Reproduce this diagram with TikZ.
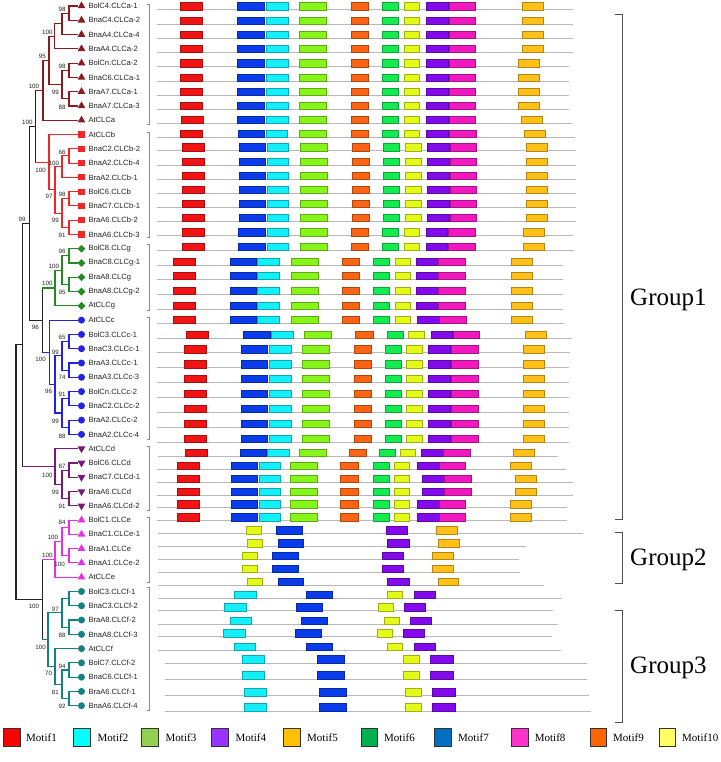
\documentclass[tikz,border=0pt]{standalone}
\usepackage{fontspec}
\setmainfont{Liberation Serif}
\newfontfamily\arialf{Liberation Sans}
\usetikzlibrary{shapes.geometric,calc}
% tree colours
\definecolor{ca}{RGB}{139,26,30}
\definecolor{cb}{RGB}{238,40,40}
\definecolor{cg}{RGB}{34,139,34}
\definecolor{cc}{RGB}{35,35,230}
\definecolor{cd}{RGB}{120,25,120}
\definecolor{ce}{RGB}{232,45,232}
\definecolor{cf}{RGB}{20,130,130}
\definecolor{bk}{RGB}{35,35,35}
% motif colours (rows)
\definecolor{mR}{RGB}{240,20,20}
\definecolor{mB}{RGB}{10,60,235}
\definecolor{mC}{RGB}{20,240,250}
\definecolor{mG}{RGB}{135,245,25}
\definecolor{mO}{RGB}{250,100,20}
\definecolor{mS}{RGB}{20,235,80}
\definecolor{mY}{RGB}{228,250,25}
\definecolor{mP}{RGB}{130,10,235}
\definecolor{mM}{RGB}{240,25,190}
\definecolor{mA}{RGB}{255,192,25}
% legend colours
\definecolor{lA}{RGB}{255,0,0}
\definecolor{lB}{RGB}{0,255,255}
\definecolor{lC}{RGB}{146,208,80}
\definecolor{lD}{RGB}{153,51,255}
\definecolor{lE}{RGB}{255,192,0}
\definecolor{lF}{RGB}{0,176,80}
\definecolor{lG}{RGB}{0,112,192}
\definecolor{lH}{RGB}{255,51,204}
\definecolor{lI}{RGB}{255,102,0}
\definecolor{lJ}{RGB}{255,255,102}
\newcommand\jn[4]{\coordinate (tmpm) at ($(#3)!0.5!(#4)$);\coordinate (tmpx) at (#2,0);\coordinate (#1) at (tmpx |- tmpm);}
\newcommand\br[4]{\draw[tl,#3] (#1) -- (#1 |- #2);\draw[tl,#4] (#1 |- #2) -- (#2);}
\newcommand\bb[3]{\br{#1}{#2}{#3}{#3}}
\newcommand\mbx[5]{\filldraw[fill=#1,draw=#1!70!black,line width=0.45pt] (#2,{#4-#5}) rectangle ({#2+#3},{#4+0.3});}
\begin{document}
\begin{tikzpicture}[x=1pt,y=-1pt,
  tl/.style={line width=1.1pt,line cap=rect},
  lab/.style={anchor=west,inner sep=0pt,font=\arialf\fontsize{7.6}{9}\selectfont,text=bk},
  bs/.style={anchor=east,inner sep=0pt,font=\arialf\fontsize{6.2}{7}\selectfont,text=bk},
  mk/.style={inner sep=0pt,draw=none},
  mka/.style={mk,regular polygon,regular polygon sides=3,minimum size=9pt,fill=ca},
  mkb/.style={mk,rectangle,minimum size=6.2pt,fill=cb},
  mkg/.style={mk,diamond,minimum size=8pt,fill=cg},
  mkc/.style={mk,circle,minimum size=7pt,fill=cc},
  mkd/.style={mk,regular polygon,regular polygon sides=3,shape border rotate=180,minimum size=9pt,fill=cd},
  mke/.style={mk,regular polygon,regular polygon sides=3,minimum size=9pt,fill=ce},
  mkf/.style={mk,circle,minimum size=7pt,fill=cf},
  ml/.style={draw={rgb,255:red,185;green,185;blue,185},line width=0.9pt},
  cbr/.style={draw={rgb,255:red,140;green,140;blue,140},line width=0.8pt},
  gbr/.style={draw={rgb,255:red,80;green,80;blue,80},line width=1pt},
  grp/.style={anchor=west,inner sep=0pt,font=\fontsize{25}{28}\selectfont},
  leg/.style={anchor=west,inner sep=0pt,font=\fontsize{11}{13}\selectfont}]
\useasboundingbox (0,0) rectangle (720,762);

% ---------------- leaves, markers, labels
\foreach \i in {1,...,50}{\coordinate (L\i) at (77.5,{6+(\i-1)*14.28});}
\foreach \i/\t/\s in {1/BolC4.CLCa-1/mka,2/BnaC4.CLCa-2/mka,3/BnaA4.CLCa-4/mka,4/BraA4.CLCa-2/mka,
 5/BolCn.CLCa-2/mka,6/BnaC6.CLCa-1/mka,7/BraA7.CLCa-1/mka,8/BnaA7.CLCa-3/mka,9/AtCLCa/mka,
 10/AtCLCb/mkb,11/BnaC2.CLCb-2/mkb,12/BnaA2.CLCb-4/mkb,13/BraA2.CLCb-1/mkb,14/BolC6.CLCb/mkb,
 15/BnaC7.CLCb-1/mkb,16/BraA6.CLCb-2/mkb,17/BnaA6.CLCb-3/mkb,
 18/BolC8.CLCg/mkg,19/BnaC8.CLCg-1/mkg,20/BraA8.CLCg/mkg,21/BnaA8.CLCg-2/mkg,22/AtCLCg/mkg,
 23/AtCLCc/mkc,24/BolC3.CLCc-1/mkc,25/BnaC3.CLCc-1/mkc,26/BraA3.CLCc-1/mkc,27/BnaA3.CLCc-3/mkc,
 28/BolCn.CLCc-2/mkc,29/BnaC2.CLCc-2/mkc,30/BraA2.CLCc-2/mkc,31/BnaA2.CLCc-4/mkc,
 32/AtCLCd/mkd,33/BolC6.CLCd/mkd,34/BnaC7.CLCd-1/mkd,35/BraA6.CLCd/mkd,36/BnaA6.CLCd-2/mkd,
 37/BolC1.CLCe/mke,38/BnaC1.CLCe-1/mke,39/BraA1.CLCe/mke,40/BnaA1.CLCe-2/mke,41/AtCLCe/mke,
 42/BolC3.CLCf-1/mkf,43/BnaC3.CLCf-2/mkf,44/BraA8.CLCf-2/mkf,45/BnaA8.CLCf-3/mkf,46/AtCLCf/mkf,
 47/BolC7.CLCf-2/mkf,48/BnaC6.CLCf-1/mkf,49/BraA6.CLCf-1/mkf,50/BnaA6.CLCf-4/mkf}{
 \node[\s] (m\i) at (81.5,{6+(\i-1)*14.28}) {};
 \node[lab] (t\i) at (88.3,{6+(\i-1)*14.28}) {\t};
}

% ---------------- internal nodes
\jn{a1}{69}{L1}{L2}\jn{a2}{62}{a1}{L3}\jn{a3}{54.3}{a2}{L4}
\jn{a4}{69}{L5}{L6}\jn{a5}{69}{L7}{L8}\jn{a6}{62}{a4}{a5}
\jn{a7}{49}{a3}{a6}\jn{a8}{43}{a7}{L9}
\jn{b1}{69}{L11}{L12}\jn{b2}{62}{b1}{L13}\jn{b3}{69}{L14}{L15}\jn{b4}{69}{L16}{L17}
\jn{b5}{62}{b3}{b4}\jn{b6}{55}{b2}{b5}\jn{b7}{49}{L10}{b6}
\jn{r1}{35.7}{a8}{b7}
\jn{g1}{69}{L18}{L19}\jn{g2}{69}{L20}{L21}\jn{g3}{62}{g1}{g2}\jn{g4}{55}{g3}{L22}
\jn{c1}{69}{L24}{L25}\jn{c2}{69}{L26}{L27}\jn{c3}{62}{c1}{c2}
\jn{c4}{69}{L28}{L29}\jn{c5}{69}{L30}{L31}\jn{c6}{62}{c4}{c5}
\jn{c7}{55}{c3}{c6}\jn{c8}{49.3}{L23}{c7}
\jn{r2}{42.7}{g4}{c8}\jn{r3}{29.3}{r1}{r2}
\jn{d1}{69}{L33}{L34}\jn{d2}{69}{L35}{L36}\jn{d3}{62}{d1}{d2}\jn{d4}{55}{L32}{d3}
\jn{r4}{22.7}{r3}{d4}
\jn{e1}{69}{L37}{L38}\jn{e2}{69}{L39}{L40}\jn{e3}{62}{e1}{e2}\jn{e4}{55}{e3}{L41}
\jn{f1}{69}{L42}{L43}\jn{f2}{69}{L44}{L45}\jn{f3}{62}{f1}{f2}
\jn{f4}{69}{L47}{L48}\jn{f5}{69}{L49}{L50}\jn{f6}{62}{f4}{f5}
\jn{f7}{55}{L46}{f6}\jn{f8}{48}{f3}{f7}
\jn{r5}{42.7}{e4}{f8}\jn{r6}{16}{r4}{r5}

% ---------------- branches
\bb{a1}{L1}{ca}\bb{a1}{L2}{ca}\bb{a2}{a1}{ca}\bb{a2}{L3}{ca}\bb{a3}{a2}{ca}\bb{a3}{L4}{ca}
\bb{a4}{L5}{ca}\bb{a4}{L6}{ca}\bb{a5}{L7}{ca}\bb{a5}{L8}{ca}\bb{a6}{a4}{ca}\bb{a6}{a5}{ca}
\bb{a7}{a3}{ca}\bb{a7}{a6}{ca}\bb{a8}{a7}{ca}\bb{a8}{L9}{ca}
\bb{b1}{L11}{cb}\bb{b1}{L12}{cb}\bb{b2}{b1}{cb}\bb{b2}{L13}{cb}
\bb{b3}{L14}{cb}\bb{b3}{L15}{cb}\bb{b4}{L16}{cb}\bb{b4}{L17}{cb}
\bb{b5}{b3}{cb}\bb{b5}{b4}{cb}\bb{b6}{b2}{cb}\bb{b6}{b5}{cb}\bb{b7}{L10}{cb}\bb{b7}{b6}{cb}
\br{r1}{a8}{bk}{ca}\br{r1}{b7}{bk}{cb}
\bb{g1}{L18}{cg}\bb{g1}{L19}{cg}\bb{g2}{L20}{cg}\bb{g2}{L21}{cg}
\bb{g3}{g1}{cg}\bb{g3}{g2}{cg}\bb{g4}{g3}{cg}\bb{g4}{L22}{cg}
\bb{c1}{L24}{cc}\bb{c1}{L25}{cc}\bb{c2}{L26}{cc}\bb{c2}{L27}{cc}\bb{c3}{c1}{cc}\bb{c3}{c2}{cc}
\bb{c4}{L28}{cc}\bb{c4}{L29}{cc}\bb{c5}{L30}{cc}\bb{c5}{L31}{cc}\bb{c6}{c4}{cc}\bb{c6}{c5}{cc}
\bb{c7}{c3}{cc}\bb{c7}{c6}{cc}\bb{c8}{L23}{cc}\bb{c8}{c7}{cc}
\br{r2}{g4}{bk}{cg}\br{r2}{c8}{bk}{cc}
\br{r3}{r1}{bk}{bk}\br{r3}{r2}{bk}{bk}
\bb{d1}{L33}{cd}\bb{d1}{L34}{cd}\bb{d2}{L35}{cd}\bb{d2}{L36}{cd}
\bb{d3}{d1}{cd}\bb{d3}{d2}{cd}\bb{d4}{L32}{cd}\bb{d4}{d3}{cd}
\br{r4}{r3}{bk}{bk}\br{r4}{d4}{bk}{cd}
\bb{e1}{L37}{ce}\bb{e1}{L38}{ce}\bb{e2}{L39}{ce}\bb{e2}{L40}{ce}
\bb{e3}{e1}{ce}\bb{e3}{e2}{ce}\bb{e4}{e3}{ce}\bb{e4}{L41}{ce}
\bb{f1}{L42}{cf}\bb{f1}{L43}{cf}\bb{f2}{L44}{cf}\bb{f2}{L45}{cf}\bb{f3}{f1}{cf}\bb{f3}{f2}{cf}
\bb{f4}{L47}{cf}\bb{f4}{L48}{cf}\bb{f5}{L49}{cf}\bb{f5}{L50}{cf}\bb{f6}{f4}{cf}\bb{f6}{f5}{cf}
\bb{f7}{L46}{cf}\bb{f7}{f6}{cf}\bb{f8}{f3}{cf}\bb{f8}{f7}{cf}
\br{r5}{e4}{bk}{ce}\br{r5}{f8}{bk}{cf}
\br{r6}{r4}{bk}{bk}\br{r6}{r5}{bk}{bk}

% ---------------- bootstrap values
\foreach \bx/\by/\bv [count=\k] in {65.7/9/98,52.7/32.3/100,46/56.7/95,65.7/66/98,59/92.7/99,65.7/107/88,
 39.3/86.7/100,32.7/122.7/100,65.7/152/66,59.3/163.3/100,46/170/100,52.7/196.7/97,65.7/194/98,
 59/220.7/99,65.7/235.3/91,25.7/219.3/99,65.7/251.7/96,59.3/266/100,52.7/283.3/100,65.7/292.7/95,
 39/327.3/96,65.7/337.7/65,59/352.3/99,46/359.3/100,65.7/377.7/74,52.3/391.7/96,65.7/394.3/91,
 59/421/99,65.7/436/88,65.7/466/87,52.7/475/100,59/492.3/99,65.7/506.7/91,65.7/522.7/84,
 58.3/537.3/100,52.7/555.7/100,65/564/100,39.3/606.7/100,59/609.3/97,65.7/635/88,46/647.7/100,
 65.7/666/94,52.3/673.3/70,59/692.3/81,65.7/706.7/92}{
 \node[bs] (bs\k) at (\bx,\by) {\bv};
}

% ---------------- clade brackets
\foreach \ya/\yb in {4/124,132.7/237.3,244/310.7,317.3/439.3,446/510.7,517.3/582.7,587.7/710}{
 \draw[cbr] (146.5,\ya) -- (149.3,\ya) -- (149.3,\yb) -- (146.5,\yb);
}

% ---------------- motif rows: full (10 motifs)
\foreach \yy/\xs/\xe/\qa/\qb/\qc/\qd/\qe/\qf/\qg/\qh/\qi/\qj in {
 9.7/157/572.7/180.7/237.7/266.3/299/351/382.3/404/426.7/449/522.3,
 24/157/572.7/180.7/237.7/266.3/299/351/382.3/404/426.7/449/522.3,
 38.3/157/572.7/180.7/237.7/266.3/299/351/382.3/404/426.7/449/522.3,
 52.3/157/572.7/180.7/237.7/266.3/299/351/382.3/404/426.7/449/522.3,
 66.7/157/569.3/180.7/237.7/266.3/299/351/382.3/404/426.7/449/518.3,
 81/157/569.3/180.7/237.7/266.3/299/351/382.3/404/426.7/449/518.3,
 95.3/157/569.3/180.7/237.7/266.3/299/351/382.3/404/426.7/449/518.3,
 109.3/157/569.3/180.7/237.7/266.3/299/351/382.3/404/426.7/449/518.3,
 123.3/157/572/181/237.7/266.3/299/351/382.3/404/426.7/449/521.3,
 137.3/157/575/180.7/238/266/299/351/382.3/404/426.7/449.3/524,
 150.7/157/576/182/239/267/300.3/352/383.3/405.3/427.3/450/526,
 165/157/576/182/239/267/300.3/352/383.3/405.3/427.3/450/526,
 179.3/157/576/182/239/267/300.3/352/383.3/405.3/427.3/450/526,
 193.3/157/576/182/239/267/300.3/352/383.3/405.3/427.3/450/526,
 207.3/157/576/182/239/267/300.3/352/383.3/405.3/427.3/450/526,
 221.3/157/576/182/239/267/300.3/352/383.3/405.3/427.3/450/526,
 235.7/157/572.7/182.3/238.7/267/300/351/382.3/404/426/448.3/523.3,
 250/157/573.7/182.3/238.7/267/300/351/382.3/404/426/448.3/523.7,
 265/157/563.3/173.3/230/257.7/291/342/373.3/395/416.7/438.7/511,
 279.3/157/563.3/173.3/230/257.7/291/342/373.3/395/416.7/438.7/511,
 294.3/157/563.3/173.3/230/257.7/291/342/373.3/395/416.7/438.7/511,
 309/157/563.3/173.3/230/257.7/291/342/373.3/395/416.7/438.7/511,
 323.3/157/563.7/173.3/230/257.7/291/342/373.3/395/417.3/439.3/511.7,
 338.3/157/571.7/186/243.3/271.3/304.3/355.3/387.3/408.7/431/453/525.7,
 352.7/157/570/184.7/241/269.3/302.7/354/385.3/406.3/428.7/451.7/523,
 367.5/157/569.3/184.7/241/269.3/302.7/354/385.3/406.3/428.7/451.7/523,
 382.3/157/569.3/184.7/241/269.3/302.7/354/385.3/406.3/428.7/451.7/523,
 397/157/569.3/184.7/241/269.3/302.7/354/385.3/406.3/428.7/451.7/523,
 412.3/157/569.3/184.7/241/269.3/302.7/354/385.3/406.3/428.7/451.7/523,
 427/157/569.3/184.7/241/269.3/302.7/354/385.3/406.3/428.7/451.7/523,
 442/157/569.3/184.7/241/269.3/302.7/354/385.3/406.3/428.7/451.7/523,
 456/158.3/558.3/185.3/240/267.3/299.3/349/379.3/400/421.7/443.3/513,
 469.3/157/566/177/231/259/290.7/340.7/373.3/394/417.3/439/510,
 482.3/157/572.7/177/231/259/290.7/340.7/373.3/394/422.7/444.3/515.3,
 495/157/572.7/177/231/259/290.7/340.7/373.3/394/422.7/444.3/515.3,
 507.7/157/566.7/177/231/259/290.7/340.7/373.3/394/417.3/439/510,
 520.7/157/567/177/231/259/290.7/340.7/373.3/394/417.3/439/510}{
 \draw[ml] (\xs,\yy) -- (\xe,\yy);
 \mbx{mR}{\qa}{22}{\yy}{7}
 \mbx{mB}{\qb}{26.5}{\yy}{7}
 \mbx{mC}{\qc}{21.5}{\yy}{7}
 \mbx{mG}{\qd}{27}{\yy}{7}
 \mbx{mO}{\qe}{17.5}{\yy}{7}
 \mbx{mS}{\qf}{16}{\yy}{7}
 \mbx{mY}{\qg}{15.5}{\yy}{7}
 \mbx{mP}{\qh}{21.5}{\yy}{7}
 \mbx{mM}{\qi}{26.5}{\yy}{7}
 \mbx{mA}{\qj}{21}{\yy}{7}
}
% CLCe-type rows (motifs 10,7,4,5)
\foreach \yy/\xs/\xe/\qa/\qb/\qc/\qd in {
 533.7/158.3/582.7/246/276.7/386.3/436.7,
 546.7/158.3/526/247.3/278/387.7/438.7,
 559.3/158.3/519/242/272.7/382/432.3,
 572/158.3/520/242/272.7/382/432.3,
 585.3/158.3/544/247/278/387.7/438}{
 \draw[ml] (\xs,\yy) -- (\xe,\yy);
 \mbx{mY}{\qa}{15}{\yy}{7}
 \mbx{mB}{\qb}{25.7}{\yy}{7}
 \mbx{mP}{\qc}{21.4}{\yy}{7}
 \mbx{mA}{\qd}{20.6}{\yy}{7}
}
% CLCf-type rows (motifs 2,7,10,4)
\foreach \yy/\xs/\xe/\qa/\qb/\qc/\qd in {
 598.3/158.3/562.3/234.3/306/387.7/414,
 610.7/158.3/552.7/224.3/296/378/404.3,
 624.3/158.3/558.3/230/301.7/384/410,
 636.7/158.3/551.7/223.3/295/377/403.3,
 650/158.3/560.7/234/306/387.7/414}{
 \draw[ml] (\xs,\yy) -- (\xe,\yy);
 \mbx{mC}{\qa}{21.5}{\yy}{7}
 \mbx{mB}{\qb}{25.8}{\yy}{7}
 \mbx{mY}{\qc}{15}{\yy}{7}
 \mbx{mP}{\qd}{21.4}{\yy}{7}
}
\foreach \yy/\xs/\xe/\qa/\qb/\qc/\qd in {
 663.3/165/586.7/242/317/403/430.7,
 679.3/165/587.3/242/317/403/430.7,
 695.7/165/589.3/244/319/405/432.7,
 711.3/165/590.7/244/319/405/432.7}{
 \draw[ml] (\xs,\yy) -- (\xe,\yy);
 \mbx{mC}{\qa}{22}{\yy}{7.6}
 \mbx{mB}{\qb}{27}{\yy}{7.6}
 \mbx{mY}{\qc}{16}{\yy}{7.6}
 \mbx{mP}{\qd}{22.5}{\yy}{7.6}
}

% ---------------- group brackets and labels
\foreach \ya/\yb in {15/519.3,532.7/583.3,610.7/722.3}{
 \draw[gbr] (614.5,\ya) -- (622.5,\ya) -- (622.5,\yb) -- (614.5,\yb);
}
\node[grp] (G1) at (630,300) {Group1};
\node[grp] (G2) at (630,560) {Group2};
\node[grp] (G3) at (630,668) {Group3};

% ---------------- legend
\foreach \lx/\tx/\lc/\lt [count=\k] in {3.7/26/lA/Motif1,73.6/97.5/lB/Motif2,141.6/165.5/lC/Motif3,
 211.5/235.4/lD/Motif4,283.7/307/lE/Motif5,361/384/lF/Motif6,434.5/458/lG/Motif7,
 511.7/534.7/lH/Motif8,590/613/lI/Motif9,659/682/lJ/Motif10}{
 \filldraw[fill=\lc,draw={rgb,255:red,50;green,50;blue,50},line width=0.8pt] (\lx,728.2) rectangle ({\lx+16.5},746.6);
 \node[leg] (lg\k) at (\tx,737.4) {\lt};
}
\end{tikzpicture}
\end{document}
